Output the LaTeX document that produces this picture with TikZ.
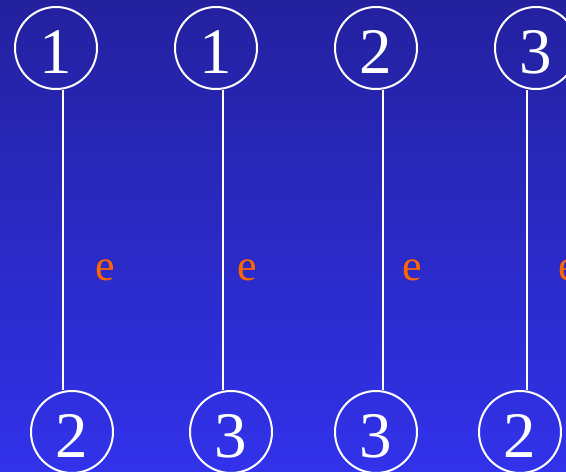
\documentclass[tikz,border=0pt]{standalone}
\usepackage{fontspec}
\setmainfont{Liberation Serif}
\definecolor{bgtop}{RGB}{35,33,158}
\definecolor{bgbot}{RGB}{50,50,235}
\definecolor{elab}{RGB}{255,102,0}
\tikzset{
  vtx/.style={circle,draw=white,line width=2pt,minimum size=82pt,inner sep=0pt,
    text=white,font=\fontsize{65}{65}\selectfont,text height=50pt,text depth=0pt},
  edg/.style={draw=white,line width=2.4pt},
  elbl/.style={text=elab,font=\fontsize{44}{44}\selectfont,inner sep=0pt}
}
\begin{document}
\begin{tikzpicture}[x=1pt,y=-1pt]
\shade[top color=bgtop,bottom color=bgbot] (0,0) rectangle (566,472);
\useasboundingbox (0,0) rectangle (566,472);
\clip (0,0) rectangle (566,472);
% top row
\node[vtx] (t1) at (56,48) {1};
\node[vtx] (t2) at (216,48) {1};
\node[vtx] (t3) at (376,48) {2};
\node[vtx] (t4) at (536,48) {3};
% bottom row
\node[vtx] (b1) at (72,432) {2};
\node[vtx] (b2) at (231,432) {3};
\node[vtx] (b3) at (376,432) {3};
\node[vtx] (b4) at (520,432) {2};
% line positions
\coordinate (x1) at (63,0);
\coordinate (x2) at (223,0);
\coordinate (x3) at (383,0);
\coordinate (x4) at (527,0);
\draw[edg] (t1.south -| x1) -- (b1.north -| x1);
\draw[edg] (t2.south -| x2) -- (b2.north -| x2);
\draw[edg] (t3.south -| x3) -- (b3.north -| x3);
\draw[edg] (t4.south -| x4) -- (b4.north -| x4);
% labels
\node[elbl] (e1) at (105,270) {e};
\node[elbl] (e2) at (247,270) {e};
\node[elbl] (e3) at (412,270) {e};
\node[elbl] (e4) at (568,270) {e};
\end{tikzpicture}
\end{document}
